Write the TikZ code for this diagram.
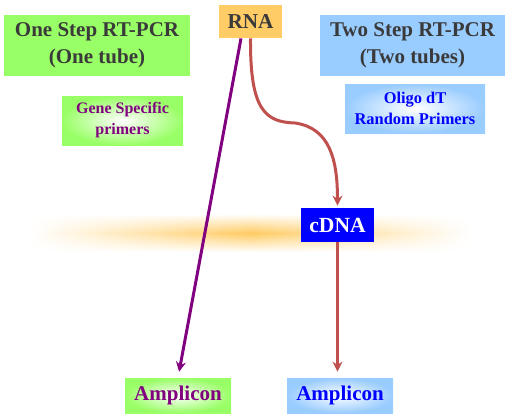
\documentclass[tikz,border=0pt]{standalone}
\usepackage{fontspec}
\setmainfont{Liberation Serif}
\usetikzlibrary{arrows.meta,fadings}

\definecolor{titlegreen}{HTML}{99FF66}
\definecolor{titleblue}{HTML}{99CCFF}
\definecolor{rnaorange}{HTML}{FFCC66}
\definecolor{bandorange}{HTML}{FFCB62}
\definecolor{textgray}{HTML}{3A3A3A}
\definecolor{primerpurple}{HTML}{800080}
\definecolor{curvered}{HTML}{C0504D}

\tikzfading[name=bandfade, top color=transparent!100, bottom color=transparent!100, middle color=transparent!0]

\tikzset{
  box/.style={rectangle, inner sep=0pt, align=center, font=\bfseries},
  title/.style={box, text=textgray, font=\bfseries\fontsize{10.5}{13.5}\selectfont},
  greenbox/.style={box, inner color=white, outer color=titlegreen},
  bluebox/.style={box, inner color=white, outer color=titleblue},
}

\begin{document}
\begin{tikzpicture}[x=0.5pt, y=-0.5pt, >={Stealth[length=5pt,width=5pt]}]
    \useasboundingbox (0,0) rectangle (512,419);

    % glow band behind cDNA
    \shade[left color=white, right color=white, middle color=bandorange, path fading=bandfade]
        (30,214) rectangle (470,252);

    % top row
    \node[title, fill=titlegreen, minimum width=93pt, minimum height=30.5pt] (onestep) at (97,45.5)
        {One Step RT-PCR\\(One tube)};
    \node[box, fill=rnaorange, text=textgray, font=\bfseries\fontsize{10.6}{12}\selectfont,
        minimum width=31.5pt, minimum height=16.5pt] (rna) at (250.5,21.5) {RNA};
    \node[title, fill=titleblue, minimum width=92.5pt, minimum height=30.5pt] (twostep) at (412.5,45.5)
        {Two Step RT-PCR\\(Two tubes)};

    % primers
    \node[greenbox, text=primerpurple, font=\bfseries\fontsize{8}{10.5}\selectfont,
        minimum width=60.5pt, minimum height=24.5pt] (gene) at (122.5,120.5) {Gene Specific\\primers};
    \node[bluebox, text=blue, font=\bfseries\fontsize{8.2}{10.5}\selectfont,
        minimum width=70pt, minimum height=24.5pt] (oligo) at (415,108.5) {Oligo dT\\Random Primers};

    % cDNA
    \node[box, fill=blue, text=white, font=\bfseries\fontsize{10.8}{12}\selectfont,
        minimum width=36.5pt, minimum height=17pt] (cdna) at (337.5,225) {cDNA};

    % products
    \node[greenbox, text=primerpurple, font=\bfseries\fontsize{10.5}{13}\selectfont,
        minimum width=53pt, minimum height=17.5pt] (ampL) at (178,395.5) {Amplicon};
    \node[bluebox, text=blue, font=\bfseries\fontsize{10.5}{13}\selectfont,
        minimum width=53pt, minimum height=17.5pt] (ampR) at (340,395.5) {Amplicon};

    % one step path
    \draw[->, primerpurple, line width=1.5pt, shorten >=3pt] ([xshift=-4.75pt]rna.south) -- (ampL.north);

    % two step path
    \draw[->, curvered, line width=1.5pt, shorten >=1pt] (rna.south)
        .. controls (250,110) and (265,122) .. (295,123)
        .. controls (330,128) and (337.5,160) .. (cdna.north);
    \draw[->, curvered, line width=1.5pt, shorten >=3pt] (cdna.south) -- (cdna.south |- ampR.north);
\end{tikzpicture}
\end{document}
